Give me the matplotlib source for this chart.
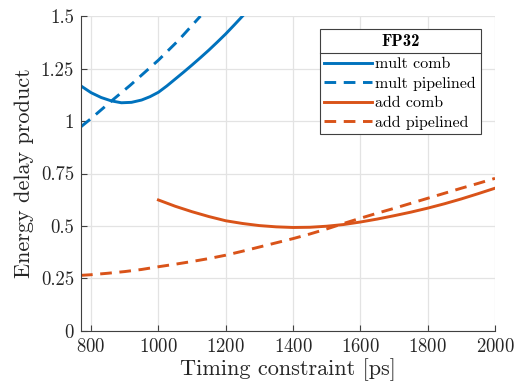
import matplotlib
matplotlib.use('Agg')
import matplotlib.pyplot as plt
from matplotlib.lines import Line2D

# values
mult_comb_x = [770, 800, 830, 860, 890, 920, 950, 975, 1000, 1025, 1050, 1075, 1100,
               1125, 1150, 1175, 1200, 1225, 1250]
mult_comb_y = [1.167, 1.135, 1.112, 1.096, 1.087, 1.089, 1.100, 1.116, 1.137, 1.167, 1.200,
               1.233, 1.267, 1.302, 1.338, 1.376, 1.415, 1.457, 1.50]

mult_pipe_x = [770, 800, 866, 916, 1000, 1060, 1125]
mult_pipe_y = [0.973, 1.012, 1.103, 1.17, 1.29, 1.385, 1.50]

add_comb_x = [1000, 1050, 1100, 1150, 1200, 1250, 1300, 1350, 1400, 1450, 1500, 1550,
              1600, 1650, 1700, 1750, 1800, 1850, 1900, 1950, 2000]
add_comb_y = [0.624, 0.594, 0.568, 0.545, 0.525, 0.512, 0.502, 0.496, 0.493, 0.494, 0.499,
              0.507, 0.519, 0.533, 0.549, 0.566, 0.585, 0.606, 0.629, 0.654, 0.68]

add_pipe_x = [770, 800, 850, 900, 950, 1000, 1050, 1100, 1150, 1200, 1250, 1300, 1350, 1400,
              1450, 1500, 1550, 1600, 1650, 1700, 1750, 1800, 1850, 1900, 1950, 2000]
add_pipe_y = [0.265, 0.268, 0.275, 0.283, 0.293, 0.306, 0.318, 0.331, 0.345, 0.361, 0.38,
              0.40, 0.42, 0.44, 0.462, 0.486, 0.512, 0.537, 0.561, 0.584, 0.608, 0.632,
              0.656, 0.68, 0.703, 0.727]

blue = '#0072BD'
orange = '#D95319'

plt.rcParams['font.family'] = 'cmr10'
plt.rcParams['mathtext.fontset'] = 'cm'
plt.rcParams['axes.formatter.use_mathtext'] = True

fig = plt.figure(figsize=(5.14, 3.85), dpi=100)
ax = fig.add_axes([0.1576, 0.1403, 0.8054, 0.818])

lw = 2.1
dash = (0, (4, 2.6))
ax.plot(mult_comb_x, mult_comb_y, color=blue, lw=lw, label='mult comb')
ax.plot(mult_pipe_x, mult_pipe_y, color=blue, lw=lw, ls=dash, label='mult pipelined')
ax.plot(add_comb_x, add_comb_y, color=orange, lw=lw, label='add comb')
ax.plot(add_pipe_x, add_pipe_y, color=orange, lw=lw, ls=dash, label='add pipelined')

ax.set_xlim(770, 2000)
ax.set_ylim(0, 1.5)
ax.set_xticks([800, 1000, 1200, 1400, 1600, 1800, 2000])
ax.set_yticks([0, 0.25, 0.5, 0.75, 1, 1.25, 1.5])
ax.set_yticklabels(['0', '0.25', '0.5', '0.75', '1', '1.25', '1.5'])
ax.grid(True, color='#e3e3e3', lw=0.9)
ax.set_axisbelow(True)
for s in ['top', 'right']:
    ax.spines[s].set_visible(False)
for s in ['left', 'bottom']:
    ax.spines[s].set_color('#404040')
    ax.spines[s].set_linewidth(0.8)
ax.tick_params(direction='in', length=4, width=0.8, colors='#404040', labelcolor='#262626',
               labelsize=13.5, pad=5)

ax.set_xlabel('Timing constraint [ps]', fontsize=16, color='#262626', labelpad=2)
ax.set_ylabel('Energy delay product', fontsize=16, color='#262626', labelpad=5)

leg = ax.legend(loc='upper right', bbox_to_anchor=(0.966, 0.959), borderaxespad=0,
                fontsize=11.5, title='FP32', title_fontproperties={'family': 'cmb10', 'size': 12},
                fancybox=False, framealpha=1, edgecolor='#404040', handlelength=3.0,
                handletextpad=0.2, labelspacing=0.33, borderpad=0.3)
leg.get_frame().set_linewidth(0.8)
leg._legend_box.sep = 6  # extra room between title and entries

# separator line under the legend title
fig.canvas.draw()
fb = leg.get_frame().get_window_extent()
tb = leg.get_title().get_window_extent()
t0 = leg.get_texts()[0].get_window_extent()
yline = ((tb.y0 + t0.y1) / 2) / fig.bbox.height
fig.add_artist(Line2D([fb.x0 / fig.bbox.width, fb.x1 / fig.bbox.width], [yline, yline],
                      color='#404040', lw=0.8, transform=fig.transFigure))

fig.savefig('out.png', dpi=100)
